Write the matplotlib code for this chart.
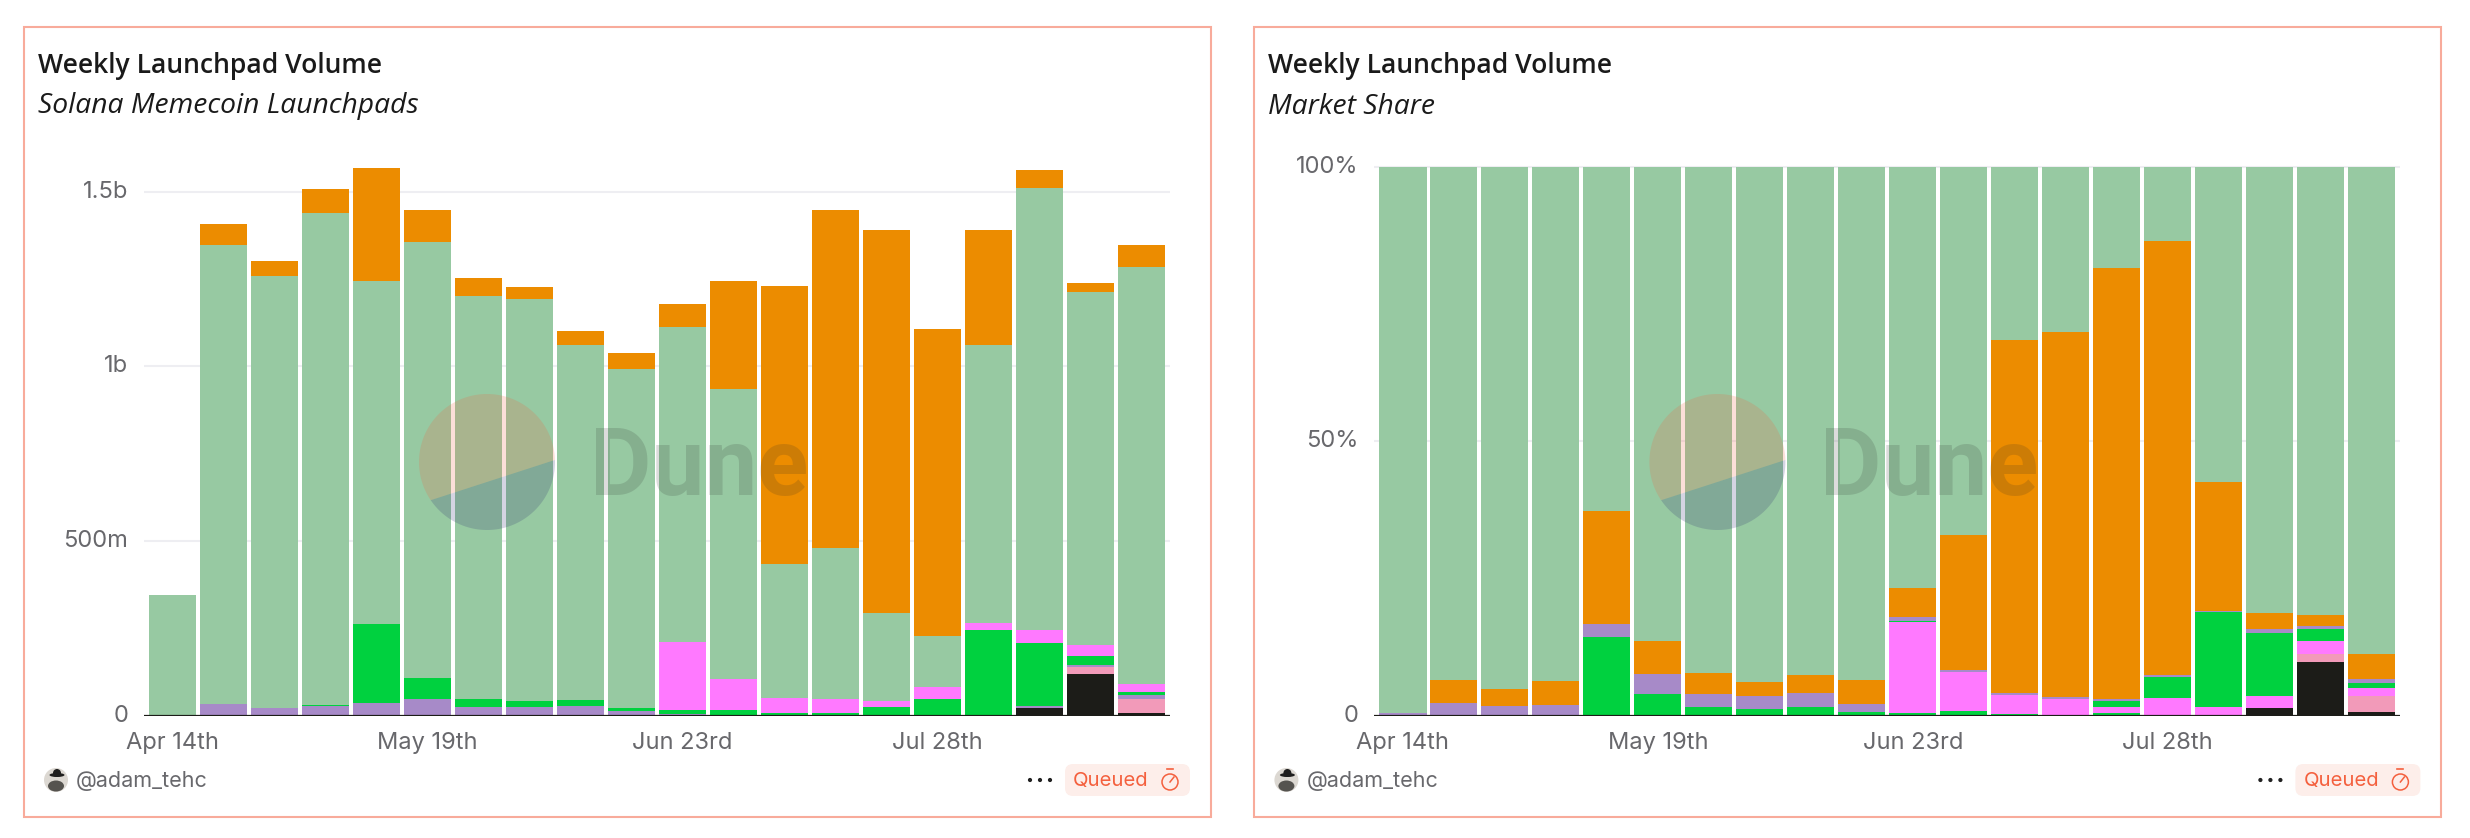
import numpy as np
import matplotlib
matplotlib.use("Agg")
import matplotlib.pyplot as plt
from matplotlib.patches import Rectangle, FancyBboxPatch, Circle, Polygon, Ellipse
from matplotlib.transforms import ScaledTranslation

W, H = 2470, 838
plt.rcParams['font.family'] = ['Inter', 'DejaVu Sans']

weeks = list(range(20))
tick_weeks = [0, 5, 10, 15]
tick_labels = ["Apr 14th", "May 19th", "Jun 23rd", "Jul 28th"]

BLACK, PINK, PURPLE, GREEN, MAGENTA, LIGHT, ORANGE = (
    "#1c1c18", "#f29ab9", "#a78ac8", "#00d13f", "#ff79ff", "#97c9a2", "#ec8c00")

# --- volume panel (millions of USD) ---
vol_black   = [0,0,0,0,0,0,0,0,0,0,0,0,0,0,0,0,0,22,119,8]
vol_pink    = [0,0,0,0,0,0,0,0,0,0,0,0,0,0,0,0,0,0,20,40]
vol_purple  = [0,33,22,28,36,48,25,25,28,13,6,2,1,1,2,2,2,6,6,11]
vol_green   = [0,0,0,3,226,60,23,17,17,9,10,14,7,7,23,46,243,180,26,9]
vol_magenta = [0,0,0,0,0,0,0,0,0,0,195,88,43,40,17,34,20,37,31,23]
vol_light   = [345,1314,1237,1408,982,1248,1153,1151,1016,971,902,831,383,432,252,146,796,1266,1011,1194]
vol_orange  = [0,61,43,69,324,92,52,34,40,46,66,309,796,968,1096,879,329,51,26,62]

# --- share panel (percent) ---
sh_black   = [0,0,0,0,0,0,0,0,0,0,0,0,0,0,0,0,0,1.4,9.8,0.7]
sh_pink    = [0,0,0,0,0,0,0,0,0,0,0,0,0,0,0,0,0,0,1.4,2.9]
sh_green_a = [0,0,0,0,14.3,3.9,1.6,1.2,1.6,0.7,0.5,0.85,0.3,0.1,0.5,0.1,0,0,0,0]
sh_magenta = [0,0,0,0,0,0,0,0,0,0,16.5,7.1,3.46,2.9,1.1,3.1,1.6,2.2,2.4,1.4]
sh_green_b = [0,0,0,0,0,0,0,0,0,0,0.2,0,0,0,1.1,3.8,17.3,11.5,2.2,1.0]
sh_purple  = [0.5,2.3,1.8,1.9,2.4,3.7,2.3,2.4,2.5,1.5,0.7,0.45,0.34,0.4,0.3,0.4,0.2,0.6,0.5,0.7]
sh_orange  = [0,4.2,3.1,4.4,20.6,6.0,3.9,2.5,3.3,4.3,5.4,24.5,64.3,66.5,78.5,79.1,23.5,3.0,2.0,4.5]
sh_light   = [99.5,93.5,95.1,93.7,62.7,86.4,92.2,93.9,92.6,93.5,76.7,67.1,31.6,30.1,18.5,13.5,57.4,81.3,81.7,88.8]

fig = plt.figure(figsize=(W/100, H/100), dpi=100, facecolor="white")


def axes_px(x0, x1, ytop, ybot):
    return fig.add_axes([x0/W, 1-ybot/H, (x1-x0)/W, (ybot-ytop)/H])


def stacked(ax, stacks, xlim, ylim, yticks, ylabels):
    bottom = np.zeros(len(weeks))
    for values, colour in stacks:
        ax.bar(weeks, values, bottom=bottom, width=0.926, color=colour, linewidth=0, zorder=3)
        bottom += np.array(values, dtype=float)
    ax.set_xlim(*xlim)
    ax.set_ylim(*ylim)
    ax.set_yticks(yticks, ylabels)
    ax.set_xticks(tick_weeks, tick_labels)
    ax.tick_params(length=0, labelsize=17, labelcolor="#68686c")
    ax.tick_params(axis='y', pad=11.5)
    ax.tick_params(axis='x', pad=11.6)
    up = ScaledTranslation(0, 2.5/100, fig.dpi_scale_trans)
    for label in ax.get_yticklabels():
        label.set_transform(label.get_transform() + up)
    for s in ax.spines.values():
        s.set_visible(False)
    ax.grid(axis='y', color="#eeeef2", linewidth=1.5, zorder=0)
    ax.axhline(0, color=BLACK, linewidth=1.6, zorder=4)
    ax.set_facecolor("none")


XL = (-0.559, 19.563)
ax1 = axes_px(144, 1170, 160, 715.7)
stacked(ax1,
        [(vol_black, BLACK), (vol_pink, PINK), (vol_purple, PURPLE), (vol_green, GREEN),
         (vol_magenta, MAGENTA), (vol_light, LIGHT), (vol_orange, ORANGE)],
        XL, (0, 1591), [0, 500, 1000, 1500], ["0", "500m", "1b", "1.5b"])

ax2 = axes_px(1374.4, 2400.4, 160, 715.7)
stacked(ax2,
        [(sh_black, BLACK), (sh_pink, PINK), (sh_green_a, GREEN), (sh_magenta, MAGENTA),
         (sh_green_b, GREEN), (sh_purple, PURPLE), (sh_orange, ORANGE), (sh_light, LIGHT)],
        XL, (0, 101.2), [0, 50, 100], ["0", "50%", "100%"])

# overlay in figure pixels for panel chrome and watermark
ov = fig.add_axes([0, 0, 1, 1], zorder=10)
ov.set_xlim(0, W)
ov.set_ylim(H, 0)
ov.axis("off")
ov.patch.set_alpha(0)


def panel(dx, subtitle, x0, x1):
    ov.add_patch(Rectangle((x0, 27), x1-x0, 790, fill=False, edgecolor="#f8ab9b", linewidth=1.5))
    ov.text(x0+15, 72.5, "Weekly Launchpad Volume", fontsize=19.1, fontweight=600,
            color="#1a1a1a", family=['Open Sans', 'DejaVu Sans'], va="baseline")
    ov.text(x0+14.5, 113.5, subtitle, fontsize=20.3, style="italic",
            color="#1a1a1a", family=['Open Sans', 'DejaVu Sans'], va="baseline")
    # Dune watermark
    cx, cy, r = 487+dx, 462, 68
    t1, t2 = np.radians(-1.7), np.radians(145.8)
    low = np.linspace(t1, t2, 80)
    up = np.linspace(t2, t1+2*np.pi, 120)
    ov.add_patch(Polygon(np.c_[cx+r*np.cos(up), cy+r*np.sin(up)], closed=True,
                         facecolor="#f4603e", alpha=0.2, linewidth=0))
    ov.add_patch(Polygon(np.c_[cx+r*np.cos(low), cy+r*np.sin(low)], closed=True,
                         facecolor="#2a2a6e", alpha=0.2, linewidth=0))
    ov.text(590+dx, 495, "Dune", fontsize=68, fontweight="bold", color="#2a2a2a", alpha=0.16,
            va="baseline", family=['Roboto', 'DejaVu Sans'])
    # footer
    ax_, ay = 56+dx, 780
    ov.add_patch(Circle((ax_, ay), 12, facecolor="#dcd8d2", linewidth=0))
    ov.add_patch(Ellipse((ax_, ay+6), 16, 11, facecolor="#55534f", linewidth=0))
    ov.add_patch(Ellipse((ax_+1, ay-5), 15, 4, facecolor="#1e1e1e", linewidth=0))
    ov.add_patch(Circle((ax_+1, ay-7), 4, facecolor="#1e1e1e", linewidth=0))
    ov.text(76+dx, ay+1, "@adam_tehc", fontsize=15.5, color="#68686c", va="center")
    for px in (1030, 1040, 1050):
        ov.add_patch(Circle((px+dx, 780), 2.1, facecolor="#222222", linewidth=0))
    ov.add_patch(FancyBboxPatch((1073+dx, 772), 109, 16, boxstyle="round,pad=8,rounding_size=8",
                                facecolor="#fdeeea", edgecolor="none"))
    ov.text(1073+dx, 781, "Queued", fontsize=14.6, color="#f4603e", va="center")
    ov.add_patch(Circle((1170+dx, 782), 8, fill=False, edgecolor="#f4603e", linewidth=1.1))
    ov.plot([1170+dx, 1174+dx], [782, 777], color="#f4603e", lw=1.1)
    ov.plot([1167+dx, 1173+dx], [769, 769], color="#f4603e", lw=1.2)


panel(0, "Solana Memecoin Launchpads", 23.5, 1210.5)
panel(1230.4, "Market Share", 1253.5, 2440.5)

fig.savefig("out.png", dpi=100)
